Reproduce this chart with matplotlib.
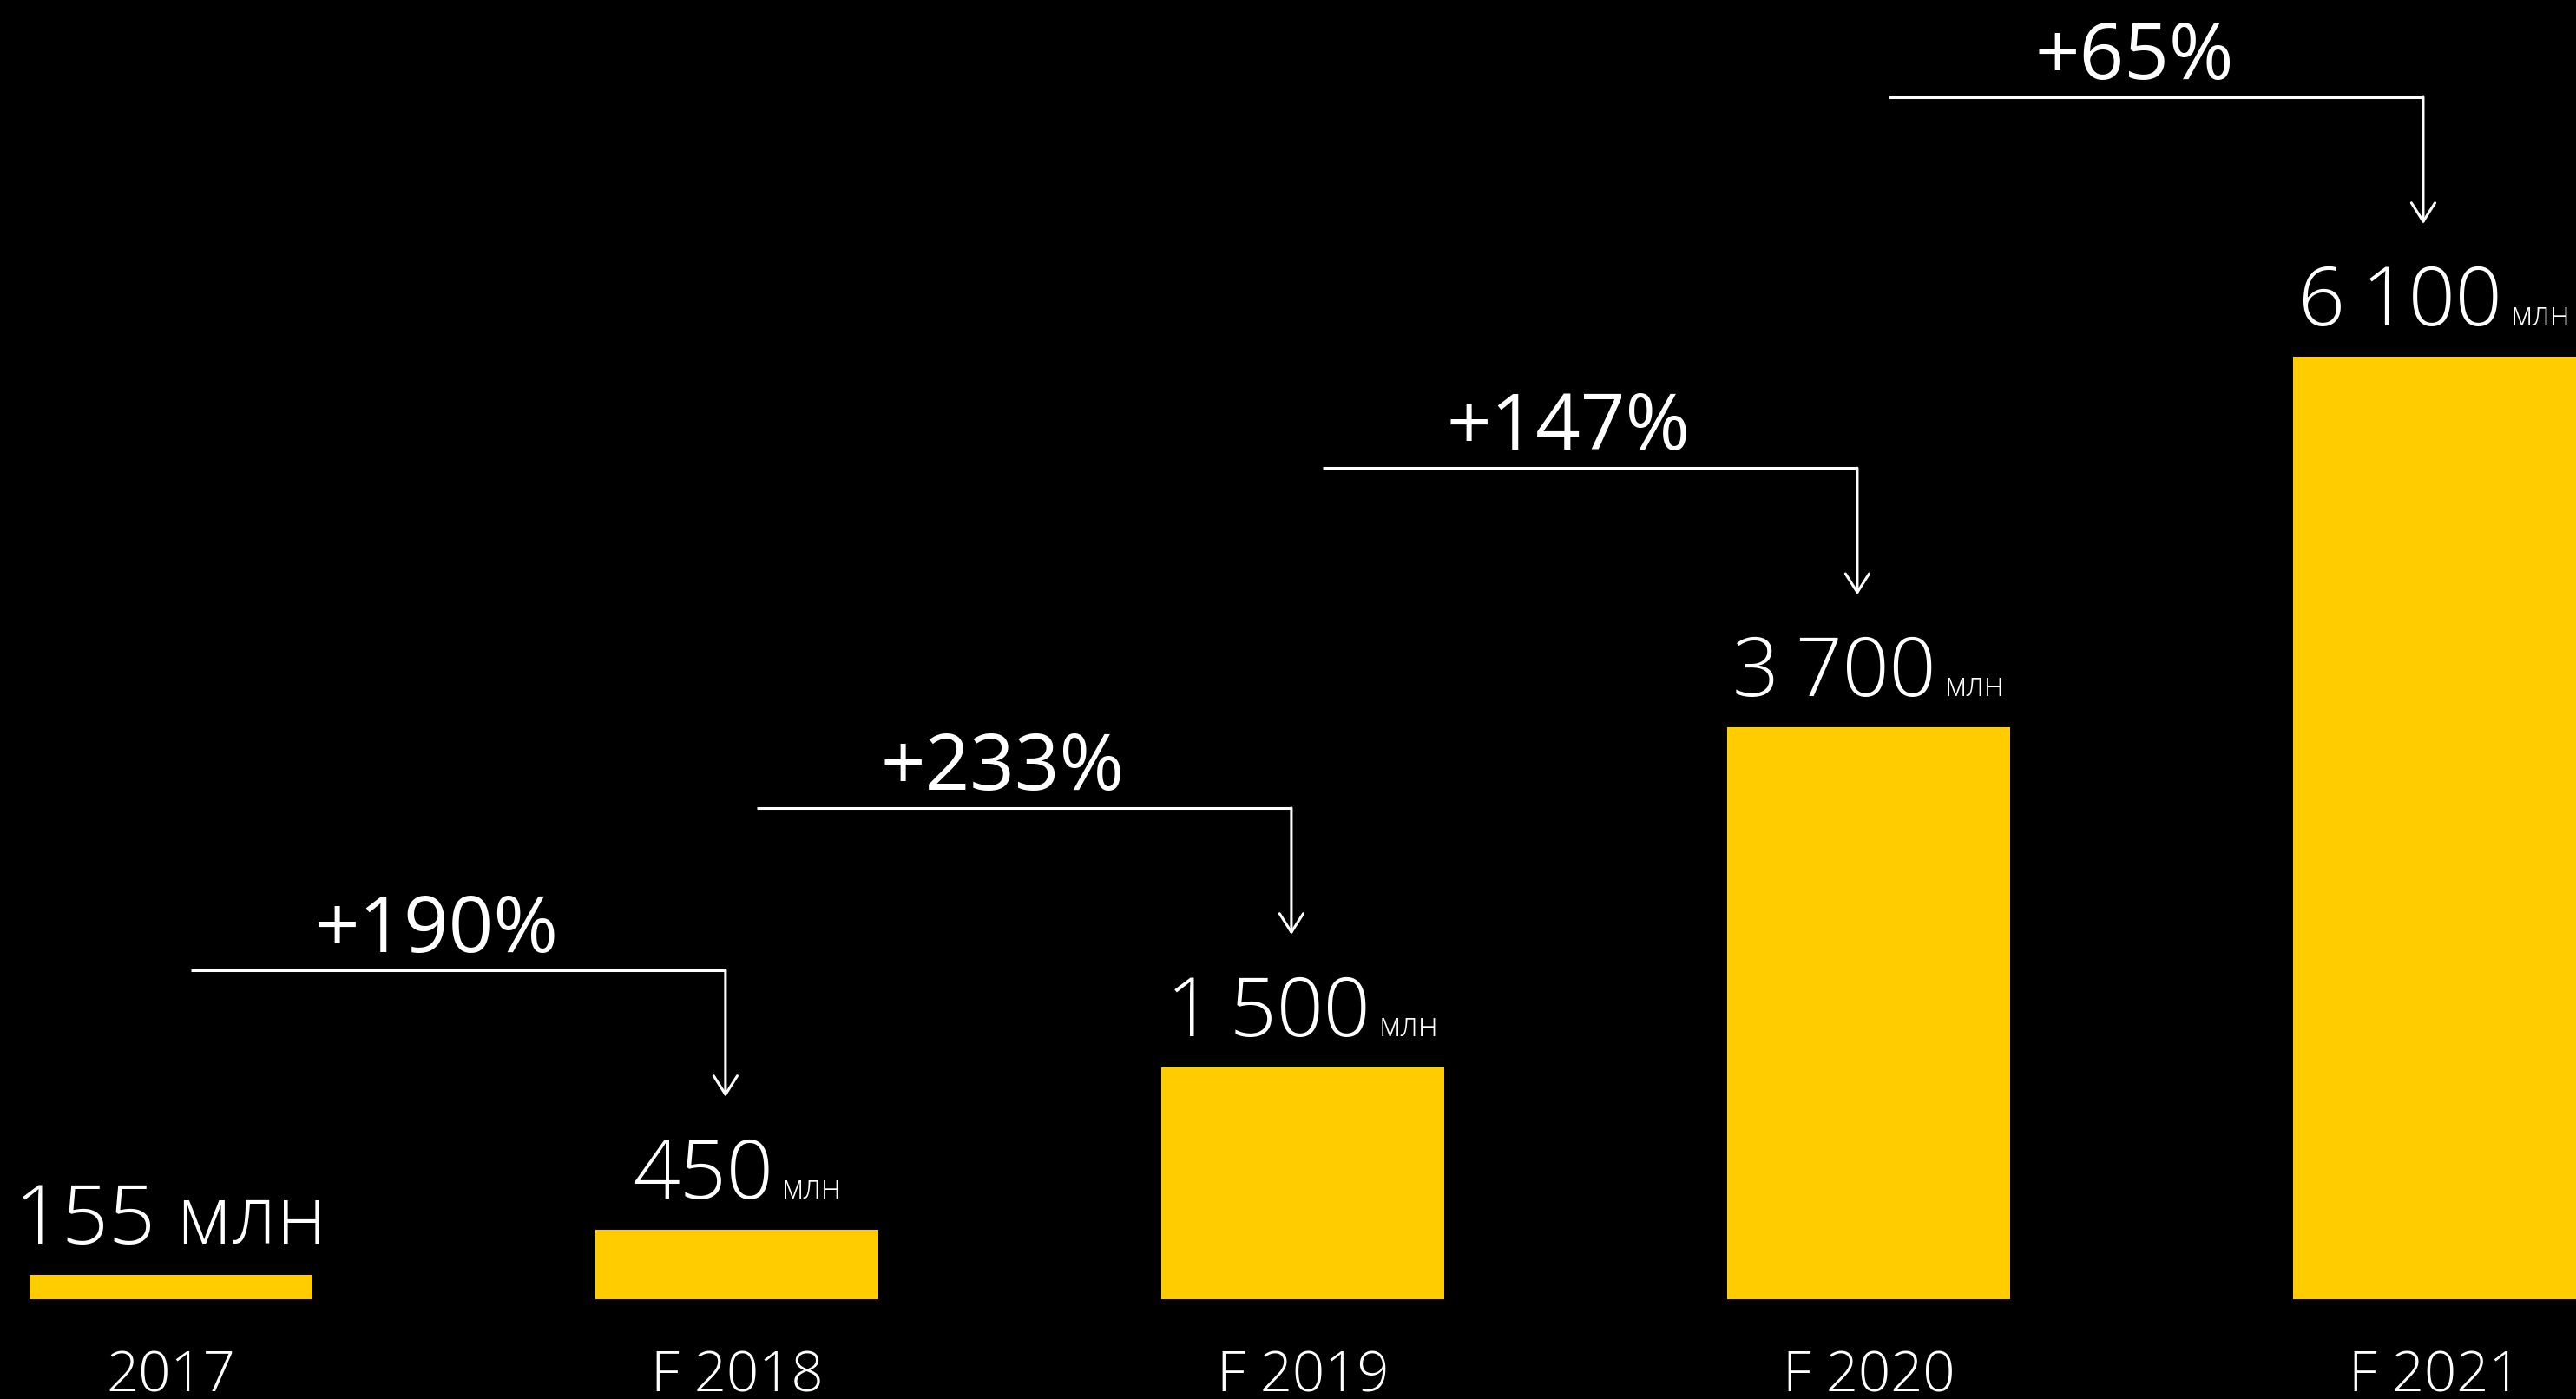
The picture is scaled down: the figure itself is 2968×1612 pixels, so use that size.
import matplotlib
matplotlib.use("Agg")
import matplotlib.pyplot as plt
import numpy as np

# values (millions)
years = ["2017", "F 2018", "F 2019", "F 2020", "F 2021"]
values = [155, 450, 1500, 3700, 6100]
value_labels = ["155", "450", "1\u2009500", "3\u2009700", "6\u2009100"]
growth = ["+190%", "+233%", "+147%", "+65%"]
unit = "млн"

W, H = 2968, 1612
YELLOW = "#FFCC00"
FONT = ["Open Sans", "DejaVu Sans"]

fig = plt.figure(figsize=(W / 100, H / 100), dpi=100, facecolor="black")
ax = fig.add_axes([0, 0, 1, 1], facecolor="black")
ax.set_axis_off()

# layout: bar centres 652 px apart, baseline 115 px from bottom
x0, x1 = -0.302, 4.25
px_per_m = 0.17803
y0, y1 = -115 / px_per_m, (H - 115) / px_per_m
ax.set_xlim(x0, x1)
ax.set_ylim(y0, y1)

def dx(px):
    return px * (x1 - x0) / W

def dy(px):
    return px * (y1 - y0) / H

xs = np.arange(len(values))
ax.bar(xs, values, width=0.5, color=YELLOW, zorder=2)

# year labels
for x, lab in zip(xs, years):
    ax.text(x, -dy(106), lab, ha="center", va="baseline", color="white",
            fontsize=47, family=FONT, fontweight="light")

fig.canvas.draw()
r = fig.canvas.get_renderer()

# value labels: big number + small unit, centred together over the bar
for i, (x, v, lab) in enumerate(zip(xs, values, value_labels)):
    yb = v + dy(36)
    if i == 0:
        ax.text(x, yb, lab + " " + unit, ha="center", va="baseline", color="white",
                fontsize=68, family=FONT, fontweight="light")
        continue
    t1 = ax.text(x, yb, lab, ha="left", va="baseline", color="white",
                 fontsize=68, family=FONT, fontweight="light")
    t2 = ax.text(x, yb, unit, ha="left", va="baseline", color="white",
                 fontsize=27, family=FONT, fontweight="light")
    w1 = t1.get_window_extent(r).width
    w2 = t2.get_window_extent(r).width
    gap = 10
    left = x - dx((w1 + gap + w2) / 2)
    t1.set_x(left)
    t2.set_x(left + dx(w1 + gap))

# growth brackets with arrows
for i, g in enumerate(growth):
    xa = xs[i] + 0.035
    xb = xs[i + 1] - 0.02
    tip = values[i + 1] + dy(153)
    yl = tip + dy(146)
    ax.plot([xa, xb], [yl, yl], color="white", lw=2.2, solid_capstyle="butt")
    ax.annotate("", xy=(xb, tip), xytext=(xb, yl),
                arrowprops=dict(arrowstyle="->,head_length=0.55,head_width=0.35",
                                color="white", lw=2.2, shrinkA=0, shrinkB=0,
                                mutation_scale=28))
    ax.text((xa + xb) / 2 - dx(25), yl + dy(21), g, ha="center", va="baseline",
            color="white", fontsize=65, family=FONT, fontweight="medium")

fig.savefig("out.png", dpi=100, facecolor="black")
